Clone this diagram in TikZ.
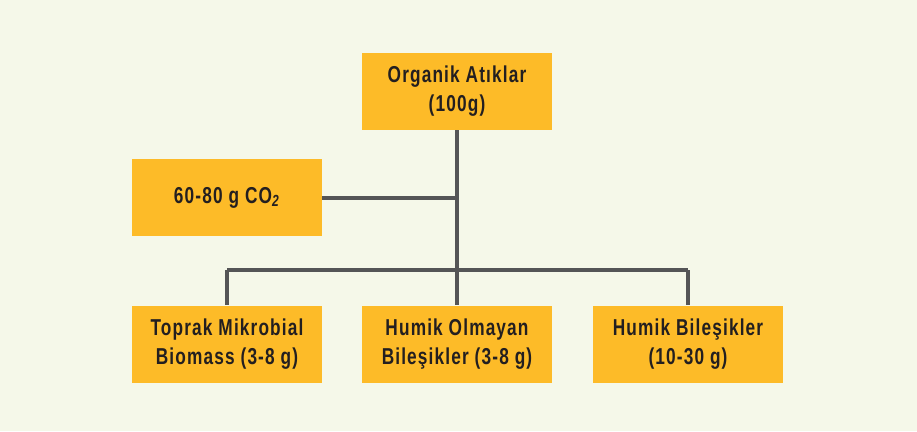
\documentclass[tikz,border=0pt]{standalone}
\usepackage{fontspec}
\setmainfont[FakeStretch=0.75,LetterSpace=5]{Liberation Sans}
\definecolor{bgcream}{HTML}{F5F8E9}
\definecolor{boxorange}{HTML}{FDBB28}
\definecolor{linegray}{HTML}{545556}
\definecolor{textdark}{HTML}{231F20}
\begin{document}
\begin{tikzpicture}[
    x=1pt, y=1pt,
    box/.style={rectangle, fill=boxorange, minimum width=190pt, minimum height=77pt, inner sep=0pt, align=center, text=textdark, font=\bfseries\fontsize{23}{29}\selectfont},
    link/.style={draw=linegray, line width=4pt}
]

% Background
\fill[bgcream] (0,0) rectangle (917,-431);

% Top
\node[box] (organik) at (457,-91.5) {Organik Atıklar\\(100g)};

% Side output
\node[box] (co2) at (227,-197.5) {60-80 g CO\textsubscript{\textit{2}}};

% Bottom row
\node[box] (toprak) at (227,-344) {Toprak Mikrobial\\Biomass (3-8 g)};
\node[box] (olmayan) at (457,-344) {Humik Olmayan\\Bileşikler (3-8 g)};
\node[box] (humik) at (688,-344) {Humik Bileşikler\\(10-30 g)};

% Connectors
\coordinate (hub) at (457,-270);
\draw[link] (organik.south) -- (hub);
\draw[link] (co2.east) -- (co2.east -| organik.south);
\draw[link] (toprak.north |- hub) -- (humik.north |- hub);
\draw[link] (toprak.north |- hub) -- (toprak.north);
\draw[link] (hub) -- (olmayan.north);
\draw[link] (humik.north |- hub) -- (humik.north);

\end{tikzpicture}
\end{document}
